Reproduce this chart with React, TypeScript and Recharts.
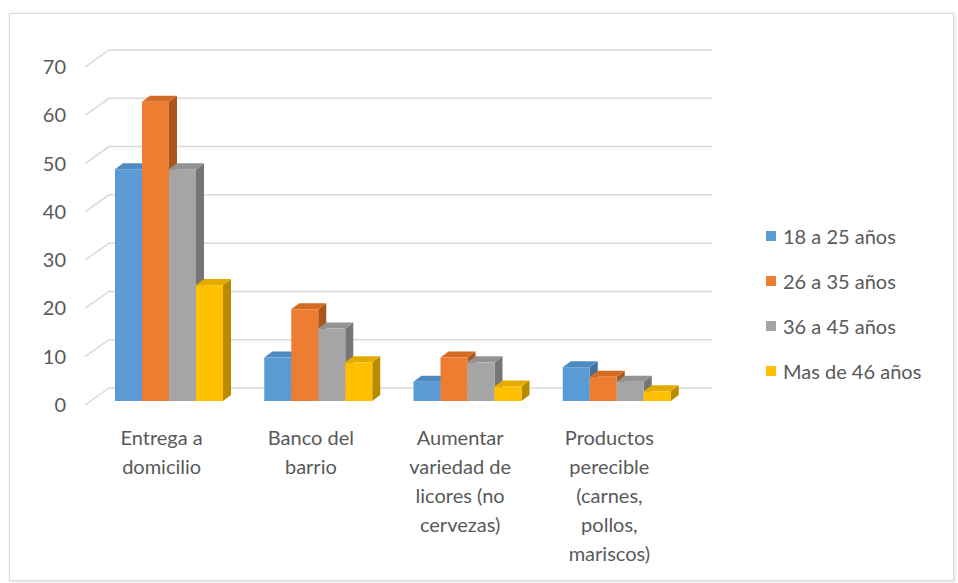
import { BarChart, Bar, XAxis, YAxis, CartesianGrid } from "recharts";

const categories = [
  "Entrega a\ndomicilio",
  "Banco del\nbarrio",
  "Aumentar\nvariedad de\nlicores (no\ncervezas)",
  "Productos\nperecible\n(carnes,\npollos,\nmariscos)",
];
const edad18a25 = [48, 9, 4, 7];
const edad26a35 = [62, 19, 9, 5];
const edad36a45 = [48, 15, 8, 4];
const edadMas46 = [24, 8, 3, 2];
const yTicks = [0, 10, 20, 30, 40, 50, 60, 70];

const seriesNames = ["18 a 25 años", "26 a 35 años", "36 a 45 años", "Mas de 46 años"];
const FRONT = ["#5B9BD5", "#ED7D31", "#A5A5A5", "#FFC000"];
const TOP = ["#4F8AC2", "#D46B25", "#939393", "#E3AA00"];
const SIDE = ["#3F6F9C", "#A8561C", "#767676", "#B88A00"];

const FONT = "Lato, 'Open Sans', sans-serif";
const TEXT = "#595959";
const DX = 8;
const DY = -6;

const data = categories.map((name, i) => ({
  name,
  a: edad18a25[i],
  b: edad26a35[i],
  c: edad36a45[i],
  d: edadMas46[i],
}));

function makeBar(idx: number) {
  return (props: any) => {
    const { x, y, width, height } = props;
    if (width == null || height == null) return <g />;
    return (
      <g>
        <polygon
          points={`${x + width},${y} ${x + width + DX},${y + DY} ${x + width + DX},${y + height + DY} ${x + width},${y + height}`}
          fill={SIDE[idx]}
        />
        <polygon
          points={`${x},${y} ${x + DX},${y + DY} ${x + width + DX},${y + DY} ${x + width},${y}`}
          fill={TOP[idx]}
        />
        <rect x={x} y={y} width={width} height={height} fill={FRONT[idx]} />
      </g>
    );
  };
}

function GridLine(props: any) {
  const { x1, x2, y1 } = props;
  return (
    <polyline
      key={`g-${y1}`}
      points={`${x1 - 10},${y1 + 4} ${x1 + 14},${y1 - 13} ${x2 + 20},${y1 - 13}`}
      fill="none"
      stroke="#D9D9D9"
      strokeWidth={1.5}
    />
  );
}

function YTick(props: any) {
  const { y, payload } = props;
  return (
    <text x={66} y={y + 11} textAnchor="end" fill={TEXT} fontSize={20} fontFamily={FONT}>
      {payload.value}
    </text>
  );
}

function XTick(props: any) {
  const { x, y, payload } = props;
  const lines = String(payload.value).split("\n");
  return (
    <text x={x - 8} y={y + 44} textAnchor="middle" fill={TEXT} fontSize={20} fontFamily={FONT}>
      {lines.map((l, i) => (
        <tspan key={i} x={x - 8} dy={i === 0 ? 0 : 29}>
          {l}
        </tspan>
      ))}
    </text>
  );
}

function LegendBox() {
  return (
    <div
      style={{
        position: "absolute",
        left: 766,
        top: 213,
        fontFamily: FONT,
        fontSize: 20,
        color: TEXT,
        whiteSpace: "nowrap",
      }}
    >
      {seriesNames.map((n, i) => (
        <div key={n} style={{ display: "flex", alignItems: "center", height: 45 }}>
          <span style={{ width: 10, height: 10, background: FRONT[i], marginRight: 7 }} />
          <span>{n}</span>
        </div>
      ))}
    </div>
  );
}

export default function App() {
  return (
    <div style={{ position: "fixed", left: 0, top: 0, width: 958, height: 583, background: "#fff" }}>
      <div
        style={{
          position: "absolute",
          left: 9,
          top: 13,
          width: 943,
          height: 566,
          border: "1px solid #D9D9D9",
          boxShadow: "1px 1px 3px rgba(0,0,0,0.12)",
        }}
      />
      <div style={{ position: "absolute", left: 0, top: 0 }}>
        <BarChart
          width={958}
          height={583}
          data={data}
          margin={{ top: 63, right: 266, bottom: 2, left: 0 }}
          barGap={0}
          barCategoryGap={20}
        >
          <CartesianGrid vertical={false} horizontal={(p: any) => <GridLine {...p} />} />
          <XAxis
            dataKey="name"
            height={180}
            axisLine={false}
            tickLine={false}
            tickSize={0}
            tickMargin={0}
            interval={0}
            tick={<XTick />}
          />
          <YAxis
            width={95}
            domain={[0, 70]}
            ticks={yTicks}
            axisLine={false}
            tickLine={false}
            tick={<YTick />}
          />
          <Bar dataKey="a" name={seriesNames[0]} fill={FRONT[0]} shape={makeBar(0)} isAnimationActive={false} />
          <Bar dataKey="b" name={seriesNames[1]} fill={FRONT[1]} shape={makeBar(1)} isAnimationActive={false} />
          <Bar dataKey="c" name={seriesNames[2]} fill={FRONT[2]} shape={makeBar(2)} isAnimationActive={false} />
          <Bar dataKey="d" name={seriesNames[3]} fill={FRONT[3]} shape={makeBar(3)} isAnimationActive={false} />
        </BarChart>
      </div>
      <LegendBox />
    </div>
  );
}
